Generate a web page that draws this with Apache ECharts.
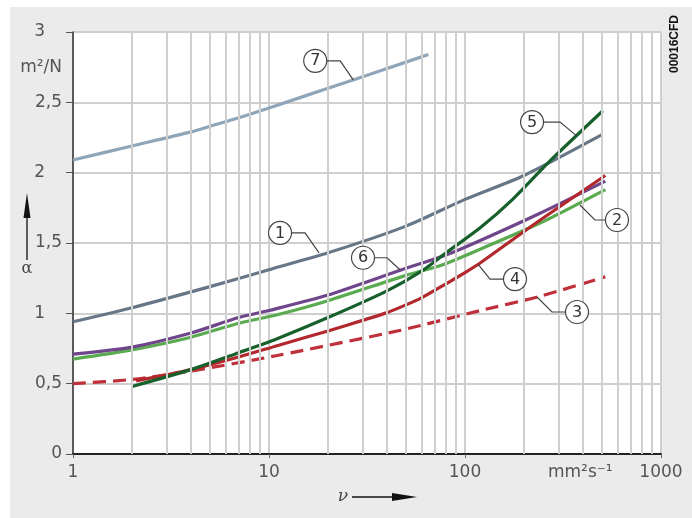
<!DOCTYPE html>
<html><head><meta charset="utf-8">
<script src="https://cdn.jsdelivr.net/npm/echarts@6/dist/echarts.min.js"></script>
<style>html,body{margin:0;padding:0;background:#fff}#c{width:692px;height:518px}</style>
</head><body><div id="c"></div>
<script>
// ---- data ----
const xTickLabels = ['1', '10', '100', '1000'];
const yTickLabels = ['0', '0,5', '1', '1,5', '2', '2,5', '3'];
const minorGrid = [2,3,4,5,6,7,8,9,20,30,40,50,60,70,80,90,200,300,400,500,600,700,800,900];

const nu7 = [1, 2, 4, 5, 7, 10, 20, 40, 65];
const alpha7 = [2.09, 2.19, 2.29, 2.33, 2.39, 2.46, 2.60, 2.74, 2.84];

const nu1 = [1, 2, 5, 10, 20, 50, 100, 200, 500];
const alpha1 = [0.94, 1.04, 1.19, 1.31, 1.43, 1.62, 1.81, 1.98, 2.27];

const nu6 = [1, 2, 4, 7, 10, 20, 50, 75, 100, 240, 520];
const alpha6 = [0.71, 0.76, 0.86, 0.97, 1.02, 1.13, 1.32, 1.40, 1.47, 1.71, 1.94];

const nu2 = [1, 2, 4, 7, 11, 20, 50, 75, 100, 240, 520];
const alpha2 = [0.675, 0.74, 0.83, 0.93, 0.99, 1.09, 1.27, 1.34, 1.41, 1.64, 1.88];

const nu5 = [2, 4, 7, 11, 20, 40, 60, 80, 120, 175, 270, 505];
const alpha5 = [0.48, 0.60, 0.72, 0.82, 0.97, 1.16, 1.30, 1.43, 1.61, 1.81, 2.08, 2.44];

const nu4 = [2.1, 4, 7, 11, 20, 30, 40, 50, 60, 80, 100, 120, 240, 520];
const alpha4 = [0.52, 0.60, 0.69, 0.77, 0.875, 0.95, 1.005, 1.06, 1.11, 1.21, 1.29, 1.36, 1.66, 1.98];

const nu3 = [1, 2, 4, 11, 47, 120, 240, 520];
const alpha3 = [0.50, 0.53, 0.59, 0.70, 0.88, 1.02, 1.12, 1.26];

const annotations = [
  {label: '7', nu: 26.9, a: 2.66, ex: -13, ey: -19, cx: -38},
  {label: '1', nu: 18.0, a: 1.43, ex: -14, ey: -20, cx: -39},
  {label: '6', nu: 46.6, a: 1.31, ex: -13, ey: -12, cx: -37},
  {label: '4', nu: 116.5, a: 1.35, ex: 12, ey: 15, cx: 37},
  {label: '5', nu: 373, a: 2.26, ex: -17, ey: -14, cx: -45},
  {label: '2', nu: 386, a: 1.77, ex: 15, ey: 15, cx: 37},
  {label: '3', nu: 233, a: 1.116, ex: 15, ey: 15, cx: 40}
];

const zip = (xs, ys) => xs.map((x, i) => [x, ys[i]]);
const FONT = 'DejaVu Sans';

function curve(name, xs, ys, color, dashed) {
  return {
    name, type: 'line', data: zip(xs, ys), showSymbol: false, smooth: 0.25,
    animation: false, silent: true,
    lineStyle: {color, width: 3.2, type: dashed ? [13, 7] : 'solid', cap: 'butt'}
  };
}

const chart = echarts.init(document.getElementById('c'), null, {renderer: 'canvas'});
chart.setOption({
  backgroundColor: '#ebebeb',
  animation: false,
  grid: {left: 73, top: 32, right: 31, bottom: 64, show: true, backgroundColor: '#fff', borderWidth: 0},
  xAxis: {
    type: 'log', logBase: 10, min: 1, max: 1000, splitNumber: 3,
    axisLine: {show: true, onZero: false, lineStyle: {color: '#222', width: 2}},
    axisTick: {show: true, length: 4, lineStyle: {color: '#666'}},
    axisLabel: {
      margin: 10, color: '#555', fontFamily: FONT, fontSize: 17,
      formatter: v => { const i = Math.round(Math.log10(v)); return xTickLabels[i] || ''; }
    },
    splitLine: {show: true, lineStyle: {color: '#cfcfcf', width: 2}},
    minorTick: {show: false}
  },
  yAxis: {
    type: 'value', min: 0, max: 3, interval: 0.5,
    axisLine: {show: true, lineStyle: {color: '#333', width: 1.5}},
    axisTick: {show: true, length: 7, inside: false, lineStyle: {color: '#555'}},
    axisLabel: {
      margin: 11, color: '#555', fontFamily: FONT, fontSize: 17,
      formatter: v => {
        const s = yTickLabels[Math.round(v / 0.5)];
        if (v !== 0 && Number.isInteger(v)) return '{i|' + s + '}';
        return s;
      },
      rich: {i: {padding: [0, 17, 0, 0], color: '#555', fontFamily: FONT, fontSize: 17}}
    },
    splitLine: {show: true, lineStyle: {color: '#cfcfcf', width: 2}}
  },
  series: [
    {
      type: 'line', data: [[1, 0]], showSymbol: false, z: 1, silent: true,
      lineStyle: {width: 0},
      markLine: {
        silent: true, symbol: ['none', 'none'], label: {show: false}, animation: false,
        lineStyle: {color: '#cfcfcf', width: 2, type: 'solid'},
        emphasis: {disabled: true},
        data: minorGrid.map(v => ({xAxis: v}))
      }
    },
    curve('7', nu7, alpha7, '#8fa5b8'),
    curve('1', nu1, alpha1, '#677787'),
    curve('3', nu3, alpha3, '#c0303a', true),
    curve('2', nu2, alpha2, '#5aab4f'),
    curve('6', nu6, alpha6, '#6f458b'),
    curve('4', nu4, alpha4, '#b3282d'),
    curve('5', nu5, alpha5, '#17602b')
  ]
});

// ---- annotations and static texts ----
const g = [];
g.push({type: 'rect', shape: {x: 0, y: 0, width: 10, height: 518}, style: {fill: '#fff'}, silent: true});
g.push({type: 'rect', shape: {x: 0, y: 0, width: 692, height: 7}, style: {fill: '#fff'}, silent: true});

const R = 11.5;
annotations.forEach(an => {
  const p = chart.convertToPixel({gridIndex: 0}, [an.nu, an.a]);
  const ex = p[0] + an.ex, ey = p[1] + an.ey;
  const ccx = p[0] + an.cx;
  const edge = ccx - Math.sign(an.cx) * R;
  g.push({type: 'polyline', z: 50, silent: true,
    shape: {points: [[edge, ey], [ex, ey], [p[0], p[1]]]},
    style: {stroke: '#444', lineWidth: 1.2, fill: null}});
  g.push({type: 'circle', z: 51, silent: true, shape: {cx: ccx, cy: ey, r: R},
    style: {fill: '#fff', stroke: '#444', lineWidth: 1.2}});
  g.push({type: 'text', z: 52, silent: true, x: ccx, y: ey + 0.5,
    style: {text: an.label, fill: '#333', font: '16px "DejaVu Sans"', align: 'center', verticalAlign: 'middle'}});
});

// y-axis unit
g.push({type: 'text', silent: true, x: 62, y: 68,
  style: {text: 'm²/N', fill: '#555', font: '17px "DejaVu Sans"', align: 'right', verticalAlign: 'middle'}});
// x-axis unit
g.push({type: 'text', silent: true, x: 548, y: 473,
  style: {text: 'mm²s⁻¹', fill: '#555', font: '17px "DejaVu Sans"', align: 'left', verticalAlign: 'middle'}});
// alpha arrow
g.push({type: 'line', silent: true, shape: {x1: 27, y1: 214, x2: 27, y2: 260}, style: {stroke: '#111', lineWidth: 1.3}});
g.push({type: 'polygon', silent: true, shape: {points: [[27, 193], [30.5, 218], [23.5, 218]]}, style: {fill: '#111'}});
g.push({type: 'text', silent: true, x: 27, y: 269,
  style: {text: 'α', fill: '#444', font: '16px "DejaVu Serif"', align: 'center', verticalAlign: 'middle'}});
// nu arrow
g.push({type: 'text', silent: true, x: 343, y: 497,
  style: {text: 'ν', fill: '#444', font: 'italic 17px "DejaVu Serif"', align: 'center', verticalAlign: 'middle'}});
g.push({type: 'line', silent: true, shape: {x1: 352, y1: 497, x2: 396, y2: 497}, style: {stroke: '#111', lineWidth: 1.3}});
g.push({type: 'polygon', silent: true, shape: {points: [[417, 497], [392, 493], [392, 501]]}, style: {fill: '#111'}});
// code
g.push({type: 'text', silent: true, x: 675, y: 44, rotation: Math.PI / 2,
  style: {text: '00016CFD', fill: '#111', font: 'bold 12px "Liberation Sans"', align: 'center', verticalAlign: 'middle'}});

chart.setOption({graphic: {elements: g}});
</script></body></html>
